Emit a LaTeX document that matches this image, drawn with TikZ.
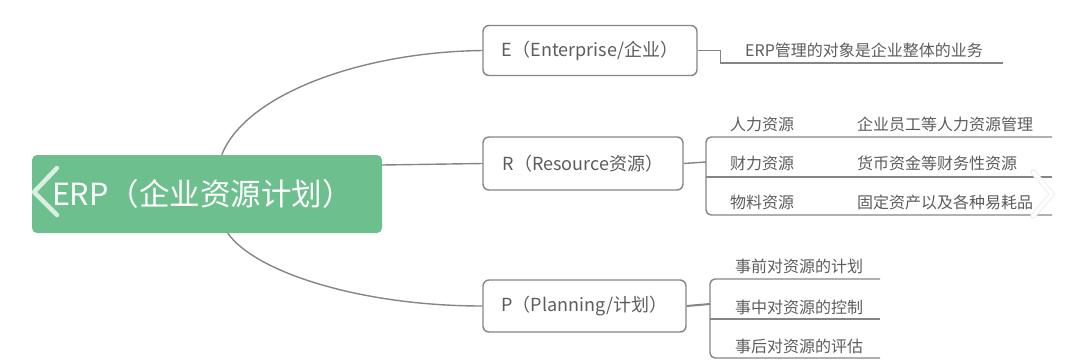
\documentclass[tikz,border=0pt]{standalone}
\usepackage{fontspec}
\setmainfont{Noto Sans CJK SC}
\usetikzlibrary{calc}
\definecolor{erpgreen}{HTML}{6DC08D}
\definecolor{linegray}{HTML}{858585}
\definecolor{txtgray}{HTML}{5C5C5C}
\begin{document}
\begin{tikzpicture}[x=1pt,y=-1pt,
  branch/.style={draw=linegray, line width=1.4pt, rounded corners=6pt, fill=white, text=txtgray, font=\fontsize{18}{21}\selectfont, inner sep=0pt},
  conn/.style={draw=linegray, line width=1.4pt},
  leaf/.style={text=txtgray, font=\fontsize{16}{19}\selectfont, inner sep=0pt, anchor=west},
  chev/.style={line cap=round, line join=round}]
\useasboundingbox (0,0) rectangle (1080,360);
% central node
\node[fill=erpgreen, rounded corners=5pt, text=white, font=\fontsize{30.5}{36}\selectfont,
      text width=310pt, align=left, inner xsep=20pt, inner ysep=0pt, minimum height=78pt] (c) at (207,194) {ERP（企业资源计划）};
% branches
\node[branch, minimum width=214pt, minimum height=50pt] (e) at (590,50.5) {E（Enterprise/企业）};
\node[branch, minimum width=200pt, minimum height=53pt] (r) at (583,163.5) {R（Resource资源）};
\node[branch, minimum width=203pt, minimum height=52pt] (p) at (584.5,306) {P（Planning/计划）};
% main connectors
\draw[conn] ([xshift=190pt]c.north west) .. controls (245,95) and (360,52) .. (e.west);
\draw[conn] ([yshift=29pt]c.east) -- (r.west);
\draw[conn] ([xshift=196pt]c.south west) .. controls (255,272) and (360,306) .. (p.west);
% E leaf
\coordinate (eend) at (1003,63);
\draw[conn] (e.east) -- ++(23,0) |- (eend);
\node[leaf] (e1) at (745,50) {ERP管理的对象是企业整体的业务};
% R leaves
\coordinate (rj) at (706,162);
\coordinate (rt) at (1052,137);
\coordinate (rm) at (1052,177);
\coordinate (rb) at (1052,215);
\draw[conn] (r.east) -- (rj);
\draw[conn, rounded corners=5pt] (rt) -| (rj) |- (rb);
\draw[conn] (rj |- rm) -- (rm);
\node[leaf] (r1a) at (730,124) {人力资源};
\node[leaf] (r1b) at (857,124) {企业员工等人力资源管理};
\node[leaf] (r2a) at (730,163) {财力资源};
\node[leaf] (r2b) at (857,163) {货币资金等财务性资源};
\node[leaf] (r3a) at (730,202) {物料资源};
\node[leaf] (r3b) at (857,202) {固定资产以及各种易耗品};
% P leaves
\coordinate (pj) at (710,304);
\coordinate (pt) at (880,279);
\coordinate (pm) at (880,319);
\coordinate (pb) at (880,358);
\draw[conn, line width=2pt] (p.east) -- (pj);
\draw[conn, rounded corners=5pt] (pt) -| (pj) |- (pb);
\draw[conn] (pj |- pm) -- (pm);
\node[leaf] (p1) at (735,266) {事前对资源的计划};
\node[leaf] (p2) at (735,307) {事中对资源的控制};
\node[leaf] (p3) at (735,346) {事后对资源的评估};
% viewer chevrons
\draw[chev, line width=4.5pt, white, opacity=0.75] (57,168) -- (34,192) -- (57,215);
\draw[chev, line width=5.5pt, black!7] (1033,172) -- (1052,194) -- (1033,216);
\draw[chev, line width=3.5pt, white] (1033,172) -- (1052,194) -- (1033,216);
\end{tikzpicture}
\end{document}
